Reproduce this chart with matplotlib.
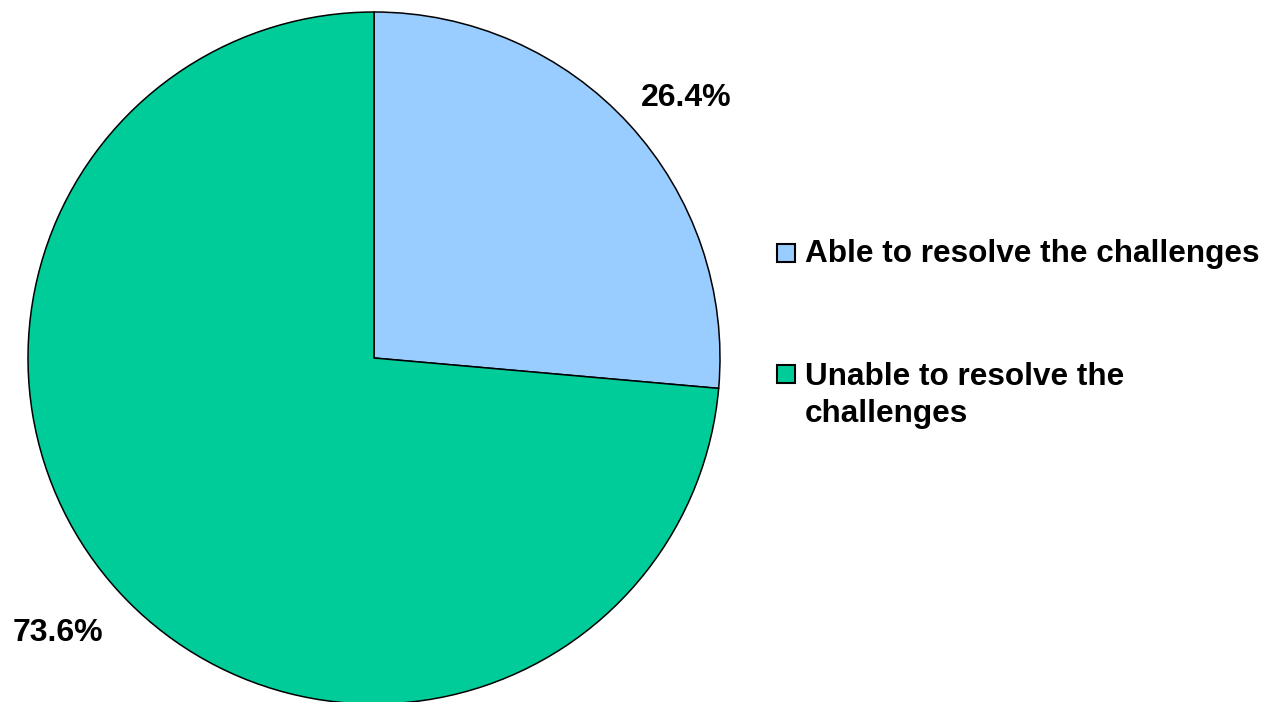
import matplotlib.pyplot as plt
from matplotlib.patches import Rectangle

plt.rcParams['font.family'] = ['Liberation Sans', 'DejaVu Sans']

# ── data ─────────────────────────────────────────────────────────────────────
categories = ['Able to resolve the challenges', 'Unable to resolve the\nchallenges']
shares = [26.4, 73.6]
colors = ['#99CCFF', '#00CC99']

W, H = 1266, 702
fig = plt.figure(figsize=(W / 100, H / 100), dpi=100)
fig.patch.set_facecolor('white')

# pie axes: centre (374, 358) px, radius 346 px
cx, cy, r = 374, 358, 346
ax = fig.add_axes([(cx - r) / W, (H - cy - r) / H, 2 * r / W, 2 * r / H])
wedges, texts, autotexts = ax.pie(
    shares, colors=colors, startangle=90, counterclock=False,
    autopct='%1.1f%%', pctdistance=1.19,
    wedgeprops=dict(edgecolor='black', linewidth=1.1),
    textprops=dict(fontsize=23, fontweight='bold', color='black'))
ax.set_xlim(-1, 1)
ax.set_ylim(-1, 1)
ax.set_aspect('equal')
ax.axis('off')

# nudge percentage labels to where the original sits
label_pos = [(0.902, 0.75), (-0.914, -0.795)]
for t, p in zip(autotexts, label_pos):
    t.set_position(p)

# ── legend (manual, to match placement) ──────────────────────────────────────
marker_y = [252.5, 374]   # marker centres, px from top
first_base = [262, 385]   # first-line baselines, px from top
line_gap = 37
for label, col, my, by in zip(categories, colors, marker_y, first_base):
    fig.patches.append(Rectangle((777 / W, (H - my - 9) / H), 18 / W, 18 / H,
                                 transform=fig.transFigure, facecolor=col,
                                 edgecolor='black', linewidth=1.5))
    for i, line in enumerate(label.split('\n')):
        fig.text(805 / W, (H - by - i * line_gap) / H, line, fontsize=22.7,
                 fontweight='bold', ha='left', va='baseline')

fig.savefig('out.png', dpi=100, facecolor='white')
